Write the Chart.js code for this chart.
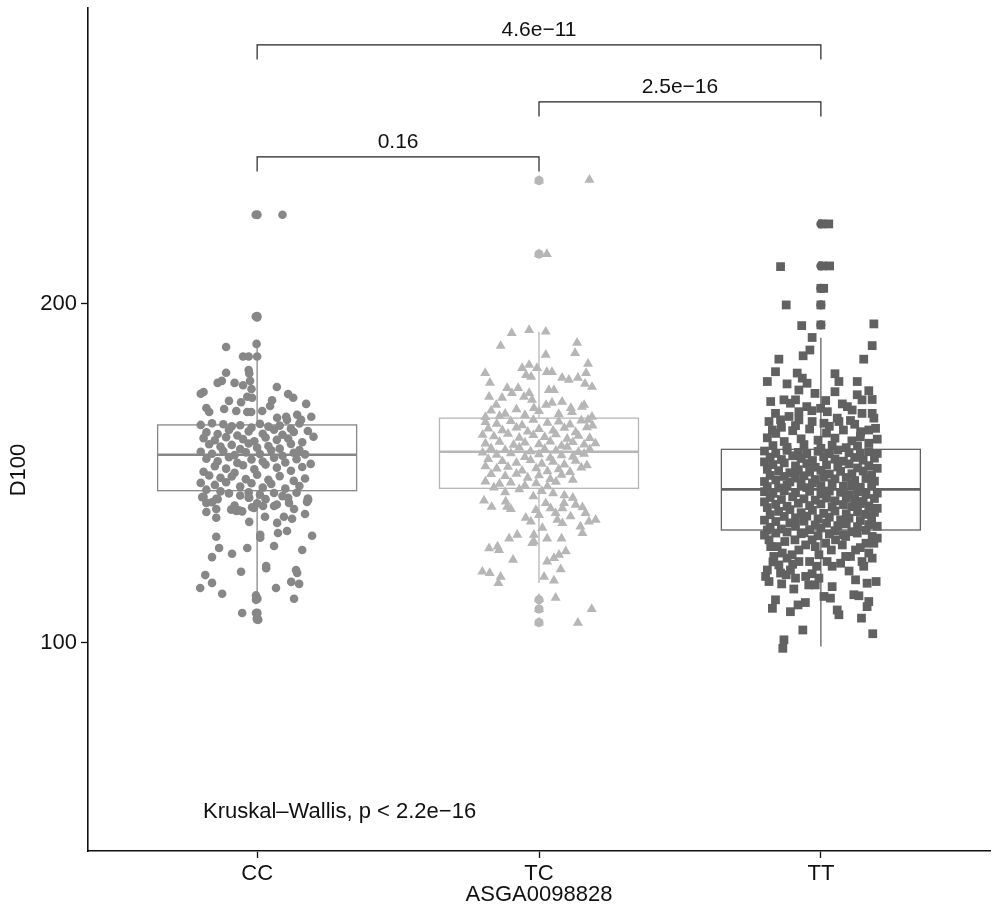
<!DOCTYPE html>
<html><head><meta charset="utf-8">
<script src="https://cdn.jsdelivr.net/npm/chart.js@4/dist/chart.umd.min.js"></script>
<style>html,body{margin:0;padding:0;background:#fff}#wrap{width:1000px;height:914px}</style>
</head><body><div id="wrap"><canvas id="c" width="1000" height="914"></canvas></div>
<script>
const categories = ['CC','TC','TT'];
const yTickValues = [100,200];
const xTitle = 'ASGA0098828';
const yTitle = 'D100';
const testLabel = 'Kruskal\u2013Wallis, p < 2.2e\u221216';

// box statistics per category
const q1 = [144.9,145.6,133.3];
const medians = [155.5,156.4,145.3];
const q3 = [164.3,166.3,157.1];
const whiskerLow = [114,117.7,98.9];
const whiskerHigh = [188.2,191.8,190];
const ccOutliers = [226.3,196.3,113,108.8,107];
const tcOutliers = [236.4,214.7,112.7,110,106];
const ttOutliers = [223.6,211.2,204.6,199.7,193.8];

// pairwise comparisons: [from, to, label]
const pairFrom = [1,2,1];
const pairTo = [3,3,2];
const pairLabels = ['4.6e\u221211','2.5e\u221216','0.16'];

// jittered observations: [jitter offset, D100]
const ccPoints = [
[-0.005,226.3],[0.09,226.3],[-0.005,196.3],[0.0,196],[-0.002,188.2],[-0.11,187.3],[-0.05,184.5],[-0.03,184.5],[0.0,184.5],[-0.03,180.5],[-0.028,179.5],[-0.11,179.7],[-0.125,177.3],[-0.14,176.7],[-0.08,176.7],[-0.05,176],[-0.025,177.3],[-0.02,174.9],[-0.19,174],[-0.2,173.5],[0.07,175.5],[0.11,173.4],[0.128,172.3],[-0.1,171.4],[-0.057,171],[-0.035,172.6],[-0.018,172.3],[0.053,171.6],[0.046,169.9],[0.174,170.5],[-0.18,169.3],[-0.17,168.1],[-0.117,169],[-0.074,168.4],[-0.035,168.1],[-0.021,168.1],[0.018,168.4],[0.071,166.4],[0.103,166.7],[0.106,165.8],[0.142,167.3],[0.156,165.8],[0.192,166.7],[-0.2,164.3],
[-0.16,164.8],[-0.12,164.5],[-0.09,163.9],[-0.06,164.2],[-0.02,163.5],[0.01,164.6],[0.04,163.8],[0.08,164.1],[0.12,163.2],[0.15,164.7],[0.18,162.5],[-0.18,162.1],[-0.14,161.6],[-0.1,162.8],[-0.07,161.2],[-0.03,162.4],[0.02,161.7],[0.06,162.9],[0.09,161.4],[0.13,162.2],[-0.19,160.4],[-0.15,159.8],[-0.11,160.7],[-0.05,160.1],[-0.01,159.5],[0.03,160.6],[0.07,159.9],[0.11,160.3],[0.16,159.2],[0.2,160.8],
[-0.17,158.6],[-0.13,157.9],[-0.09,158.4],[-0.06,157.2],[-0.03,158.8],[0.0,157.6],[0.04,158.1],[0.08,157.3],[0.12,158.7],[0.15,156.9],[-0.2,156.4],[-0.16,155.8],[-0.12,156.6],[-0.08,155.4],[-0.04,156.2],[0.01,155.7],[0.05,156.8],[0.09,155.2],[0.13,156.1],[0.17,155.6],
[-0.18,154.3],[-0.14,153.6],[-0.1,154.8],[-0.07,153.1],[-0.02,154.1],[0.02,153.5],[0.06,154.6],[0.1,153.2],[0.14,154.2],[0.19,152.8],[-0.15,152.1],[-0.11,151.4],[-0.05,152.4],[-0.01,151.2],[0.03,152.6],[0.07,151.7],[0.12,150.8],[0.16,151.9],[-0.19,150.5],[-0.08,150.2],
[-0.17,149.4],[-0.13,148.7],[-0.09,149.1],[-0.04,148.3],[0.0,149.6],[0.04,148.1],[0.08,149.2],[0.13,147.8],[0.17,148.5],[-0.2,147.2],[-0.15,146.6],[-0.11,147.4],[-0.06,146.1],[-0.02,147.1],[0.02,145.8],[0.05,146.9],[0.1,145.5],[0.15,146.3],[-0.18,145.2],[-0.13,144.7],
[-0.19,143.1],[-0.16,141.5],[-0.14,142.4],[-0.1,144.1],[-0.06,143.5],[-0.03,144.4],[0.01,143.7],[0.03,142.4],[0.06,144.2],[0.09,143.3],[0.11,142.8],[0.14,144.3],[0.18,142.6],[-0.03,142.8],[0.0,141.2],[0.07,140.8],[-0.08,140.5],
[-0.145,139.5],[-0.145,136.9],[-0.18,138.6],[-0.092,139.3],[-0.074,138.9],[-0.064,139.1],[-0.053,138.8],[-0.028,135.7],[-0.028,142.8],[0.028,137.2],[0.071,135.4],[-0.018,140],[-0.011,139.8],[0.021,140.4],[0.06,140.4],[0.113,141.3],[0.131,139.5],[0.17,138],[0.177,141.6],[0.181,142.2],[-0.195,143],[-0.18,141.3],[-0.145,142.5],
[-0.145,131.3],[-0.135,128],[-0.16,125.3],[-0.089,126.3],[-0.035,128],[0.011,131.9],[0.011,131],[0.06,128.6],[0.074,132.4],[0.095,137.2],[0.106,133],[0.124,136.6],[0.195,131.6],[0.16,127.4],[0.032,122.7],[0.032,122],[-0.057,121],[-0.184,120],[-0.16,117.7],[-0.202,116.2],[-0.124,114.5],[0.067,116.2],[0.138,121.5],[0.142,120.6],[0.121,118],[0.149,117.4],[0.131,113],[-0.004,114],[-0.004,112.7],[-0.053,108.8],[-0.004,108.8],[0.004,106.8],[0.0,107.5]
];
const tcPoints = [
[0.0,236.4],[0.179,236.6],[0.0,214.7],[0.028,214.7],[-0.097,191.4],[-0.035,192.3],[0.024,191.8],[-0.136,187.6],[0.135,188.5],[0.128,185.5],[0.024,185],[-0.191,179.6],[-0.174,176.7],[-0.06,181.1],[-0.035,182],[-0.046,179],[-0.028,178.5],[-0.007,181.1],[0.028,179.9],[0.046,179.9],[0.082,178.2],[0.106,177.6],[0.138,178.2],[0.174,182.3],[0.167,179.6],[0.163,176.4],[0.188,175.5],[-0.113,175.2],[-0.096,173.7],[-0.074,175.2],[-0.053,172.6],[-0.035,173.7],[0.035,174.6],[0.053,174.6],[-0.177,172.6],[-0.152,170.2],[-0.131,172.3],[-0.025,171.7],[-0.018,169.3],[0.025,170.2],[0.046,170.8],[0.082,171.1],[0.113,169.3],[0.117,168.1],[0.152,169.6],[0.16,170.2],[0.188,166.7],[0.174,165.8],
[-0.17,168.5],[-0.12,167.6],[-0.08,168.9],[-0.05,167.2],[0.0,168.4],[0.07,167.5],[-0.19,166.6],[-0.14,166.9],
[-0.19,165.1],[-0.15,164.6],[-0.1,165.4],[-0.06,164.2],[-0.02,165.8],[0.03,164.9],[0.07,165.3],[0.11,164.4],[0.15,165.6],[0.19,164.1],
[-0.18,163.2],[-0.13,162.7],[-0.08,163.5],[-0.04,162.3],[0.0,163.1],[0.05,162.6],[0.09,163.4],[0.13,162.1],[0.17,163.6],[-0.2,161.4],
[-0.16,160.9],[-0.11,161.7],[-0.07,160.5],[-0.02,161.3],[0.02,160.7],[0.06,161.5],[0.1,160.2],[0.14,161.1],[0.18,160.4],[-0.14,159.3],
[-0.19,158.8],[-0.09,158.4],[-0.05,159.1],[0.0,158.6],[0.04,159.4],[0.08,158.1],[0.12,159.2],[0.16,158.5],[0.2,158.9],[-0.17,157.4],
[-0.12,156.9],[-0.07,157.6],[-0.03,156.5],[0.02,157.2],[0.06,156.7],[0.1,157.8],[0.14,156.3],[0.18,157.1],[-0.2,156.1],[-0.15,155.5],
[-0.1,155.9],[-0.05,154.8],[0.0,155.6],[0.04,154.6],[0.08,155.3],[0.12,154.9],[0.16,155.8],[-0.18,154.2],[-0.13,153.6],[-0.08,153.1],
[-0.03,153.9],[0.01,152.8],[0.05,153.4],[0.09,152.6],[0.13,153.7],[0.17,152.4],[-0.19,152.1],[-0.15,151.4],[-0.11,151.9],[-0.06,150.8],
[-0.01,151.5],[0.03,150.6],[0.07,151.2],[0.11,150.4],[0.15,151.7],[-0.17,149.8],[-0.12,149.2],[-0.08,149.9],[-0.04,148.7],[0.0,149.4],
[0.04,148.3],[0.08,149.6],[0.12,148.1],[-0.19,147.6],[-0.14,146.9],[-0.1,147.3],[-0.05,146.4],[-0.01,147.1],[0.03,146.2],[0.06,147.5],
[-0.16,145.8],[-0.07,145.3],[0.01,144.8],[0.05,144.1],[-0.12,144.4],[0.09,143.5],[-0.02,143.2],[0.12,142.8],
[-0.195,142],[-0.168,140.1],[-0.118,141.7],[-0.113,140.1],[-0.1,139.5],[-0.047,136.9],[-0.029,135.8],[-0.011,139.2],[0.0,137.7],[0.024,141.2],[0.041,139.7],[0.059,138.3],[0.083,139.7],[0.089,141.2],[0.112,137.3],[0.13,140.7],[0.154,140],[0.165,138.3],[0.147,134.3],[0.177,135.8],[0.201,136.3],[0.154,132.4],[0.083,135.3],[0.065,136.3],[0.012,133.9],[-0.018,131.9],[-0.018,129.9],[-0.024,129.4],[0.029,130.8],[0.08,130.8],[-0.106,130.8],[-0.077,131.9],[-0.177,127.9],[-0.147,128.4],[-0.142,127.4],[-0.092,124.5],[0.029,124],[0.053,125],[0.071,126],[0.095,127],[0.077,121.7],[-0.201,121],[-0.175,120.6],[-0.136,119.5],[-0.144,117.6],[0.018,119.5],[0.053,118.4],[0.0,113],[0.059,113.3],[0.187,110],[0.138,105.9],[0.0,110],[0.0,106]
];
const ttPoints = [
[0.005,223.6],[0.028,223.6],[-0.143,211],[0.005,211.2],[0.031,211.2],[0.0,204.6],[0.01,204.6],[-0.123,199.7],[0.0,199.7],[-0.068,193.6],[0.0,193.8],[0.188,194.1],[-0.031,190.1],[-0.039,186.4],[-0.063,184.7],[0.182,187.7],[0.152,183.7],[-0.149,183.7],[-0.161,180],[-0.19,177.1],[-0.12,176.4],[-0.084,179.6],[-0.066,178.1],[-0.049,176.6],[-0.078,174.6],[0.05,179.4],[0.064,177.1],[0.05,174.1],[0.129,177.1],[-0.021,173.6],[0.17,174.4],[0.182,171.8],[0.017,171.5],[-0.178,171.2],[-0.131,171.7],[-0.108,170.7],[-0.09,171.7],[0.129,173.2],[0.146,171.7],[0.076,170.5],[0.094,169.7],[0.111,168.7],[-0.078,168.2],[-0.05,169.7],[-0.032,168.5],[-0.001,169.2],[0.023,168.2],[-0.161,167.7],[-0.184,165.3],[-0.172,162.8],[-0.143,165.8],[-0.113,166.8],[-0.078,165.8],[-0.031,165.3],[0.011,164.8],[0.058,166.3],[0.064,165.3],[0.105,165.6],[0.146,167.7],[0.182,167.7],[0.188,166.3],[0.194,163.3],[0.17,162.8],[0.141,162.3],
[-0.19,160.5],[-0.16,161.8],[-0.13,159.4],[-0.1,162.6],[-0.07,160.2],[-0.04,163.1],[-0.01,159.8],[0.02,161.9],[0.05,160.4],[0.08,162.8],[0.11,159.6],[0.14,160.8],[0.17,158.9],[0.2,160.1],[-0.17,158.2],[-0.12,157.7],[-0.06,158.5],[0.0,157.4],[0.04,158.3],[0.09,157.6],[0.13,158.1],[-0.14,163.6],[0.03,163.9],[-0.09,164.1],[0.12,164.5],
[-0.2,156.6],[-0.16,155.9],[-0.12,156.8],[-0.08,156.2],[-0.05,155.7],[-0.01,156.5],[0.03,155.8],[0.06,156.9],[0.1,156.1],[0.14,155.6],[0.17,156.4],[0.2,155.9],
[-0.18,154.8],[-0.14,154.1],[-0.1,155.2],[-0.07,154.4],[-0.03,153.8],[0.01,154.9],[0.05,154.2],[0.08,153.6],[0.12,154.7],[0.15,153.9],[0.19,154.5],[-0.2,153.4],
[-0.17,152.6],[-0.13,153.1],[-0.09,152.2],[-0.05,152.9],[-0.02,151.8],[0.02,152.5],[0.06,151.9],[0.1,152.8],[0.13,151.6],[0.17,152.3],[0.2,151.5],[-0.19,151.2],
[-0.15,150.8],[-0.11,150.2],[-0.08,151.1],[-0.04,150.4],[0.0,150.9],[0.03,149.8],[0.07,150.6],[0.11,149.9],[0.15,150.7],[0.18,149.6],[-0.18,149.4],[-0.13,149.1],
[-0.09,148.6],[-0.06,149.3],[-0.02,148.2],[0.01,148.9],[0.05,148.4],[0.09,148.8],[0.12,147.9],[0.16,148.5],[0.19,147.7],[-0.2,147.6],[-0.16,148.1],[-0.11,147.5],
[-0.07,146.9],[-0.03,147.2],[0.0,146.4],[0.04,147],[0.08,146.2],[0.11,146.8],[0.14,145.9],[0.18,146.6],[-0.19,146.1],[-0.15,145.7],[-0.12,146.5],[-0.05,145.8],
[-0.2,144.6],[-0.17,144.1],[-0.13,144.9],[-0.09,144.3],[-0.04,144.7],[0.0,143.9],[0.03,144.8],[0.07,144.4],[0.1,143.6],[0.13,144.6],[0.16,143.8],[0.2,144.2],
[-0.18,142.9],[-0.14,142.3],[-0.1,143.1],[-0.06,142.5],[-0.02,142.1],[0.02,142.7],[0.05,141.9],[0.09,142.8],[0.12,142.2],[0.15,141.7],[0.19,142.6],[-0.2,141.6],
[-0.16,140.9],[-0.12,140.3],[-0.08,141.2],[-0.04,140.5],[0.0,141],[0.04,140.1],[0.08,140.8],[0.11,140.2],[0.14,141.1],[0.17,140.4],[-0.19,139.9],[0.2,139.7],
[-0.15,138.8],[-0.11,139.3],[-0.07,138.4],[-0.03,139.1],[0.01,138.2],[0.05,138.9],[0.09,138.1],[0.13,138.7],[0.16,137.9],[0.19,138.5],[-0.18,137.8],[-0.13,137.3],
[-0.09,136.9],[-0.05,137.4],[-0.01,136.6],[0.03,137.1],[0.07,136.3],[0.1,136.8],[0.14,136.1],[0.18,136.7],[-0.2,136.2],[-0.16,135.8],[-0.11,135.4],[-0.06,135.9],
[-0.02,134.8],[0.02,135.3],[0.06,134.6],[0.09,135.1],[0.13,134.3],[0.17,134.9],[0.2,134.4],[-0.18,134.1],[-0.14,133.6],[-0.09,134.5],[-0.04,133.4],[0.0,133.9],
[0.05,133.1],[0.11,132.8],[0.16,133.2],[-0.12,132.7],[-0.07,132.2],[-0.16,132.4],[0.08,131.9],[-0.01,131.6],
[-0.184,130.4],[-0.155,128.4],[-0.137,126.5],[-0.12,125],[-0.102,126],[-0.078,127.4],[-0.054,128.9],[-0.031,130.4],[-0.007,126],[0.022,124],[0.04,122.6],[0.07,123.5],[0.105,125.5],[0.123,127.4],[0.146,124],[0.152,122.6],[0.182,125],[0.188,129.4],[0.182,131.4],[0.129,132.4],[0.088,131.4],[0.052,130.4],[0.017,129.4],[-0.078,124],[-0.108,121.5],[-0.149,123],[-0.167,125.5],[-0.19,133.3],[-0.178,128.4],[-0.128,129.9],[-0.092,130.4],[-0.02,128.4],[0.037,127.4],[0.076,128.9],[0.16,129.4],[0.17,126.5],[-0.04,124],[0.088,125.5],[-0.015,122.6],[-0.2,131.8],[0.2,130.9],[-0.06,132.5],[0.03,132.1],[0.14,128.1],[-0.1,123.2],[0.1,121.2],[-0.17,123.9],
[-0.196,119.6],[-0.184,118.1],[-0.19,121.5],[-0.143,120.6],[-0.123,120.1],[-0.139,117.4],[-0.09,119.1],[-0.096,115.9],[-0.054,119.6],[-0.031,120.4],[-0.043,117.1],[-0.02,117.1],[-0.007,119.1],[0.04,116.6],[0.011,113.7],[0.034,113.2],[0.123,118.6],[0.164,117.6],[0.196,118.1],[0.117,114.2],[0.135,113.9],[0.17,112.2],[0.164,110.7],[-0.161,112.7],[-0.172,110.2],[-0.108,109.2],[-0.081,111.2],[-0.055,111.9],[0.058,109.7],[0.064,108.3],[0.144,107.3],[-0.064,103.8],[0.184,102.7],[-0.131,100.9],[-0.135,98.4]
];

const groupColors = ['#878787','#b6b6b6','#616161'];
const FONT = '"Liberation Sans", Arial, Helvetica, sans-serif';

function toXY(points, cat){ return points.map(p => ({x: cat + p[0], y: p[1]})); }
function outlierXY(vals, cat){ return vals.map(v => ({x: cat, y: v})); }

const boxPlugin = {
  id: 'boxes',
  beforeDatasetsDraw(chart){
    const {ctx, scales:{x, y}} = chart;
    ctx.save();
    const line = (x1,y1,x2,y2)=>{ctx.beginPath();ctx.moveTo(x1,y1);ctx.lineTo(x2,y2);ctx.stroke();};
    categories.forEach((c,i)=>{
      const cat = i+1;
      const l = x.getPixelForValue(cat-0.353), r = x.getPixelForValue(cat+0.353), m = x.getPixelForValue(cat);
      const yq1 = y.getPixelForValue(q1[i]), yq3 = y.getPixelForValue(q3[i]), ym = y.getPixelForValue(medians[i]);
      ctx.strokeStyle = groupColors[i];
      ctx.lineWidth = 1.3;
      line(m, y.getPixelForValue(whiskerHigh[i]), m, yq3);
      line(m, yq1, m, y.getPixelForValue(whiskerLow[i]));
      ctx.fillStyle = '#fff';
      ctx.fillRect(l, yq3, r-l, yq1-yq3);
      ctx.strokeRect(l, yq3, r-l, yq1-yq3);
      ctx.lineWidth = 2.6;
      line(l, ym, r, ym);
    });
    ctx.restore();
  }
};

const annotPlugin = {
  id: 'annot',
  afterDraw(chart){
    const {ctx, scales:{x, y}} = chart;
    ctx.save();
    const levels = [276.4, 259.6, 243.4];
    const tipLen = 4.3;
    const textGap = 4.3;
    ctx.strokeStyle = '#222';
    ctx.lineWidth = 1.2;
    ctx.fillStyle = '#111';
    ctx.font = '21px ' + FONT;
    ctx.textAlign = 'center';
    ctx.textBaseline = 'middle';
    pairLabels.forEach((lab,i)=>{
      const x1 = x.getPixelForValue(pairFrom[i]), x2 = x.getPixelForValue(pairTo[i]);
      const yl = y.getPixelForValue(levels[i]), yt = y.getPixelForValue(levels[i]-tipLen);
      ctx.beginPath();
      ctx.moveTo(x1, yt); ctx.lineTo(x1, yl); ctx.lineTo(x2, yl); ctx.lineTo(x2, yt);
      ctx.stroke();
      ctx.fillText(lab, (x1+x2)/2, y.getPixelForValue(levels[i]+textGap));
    });
    // Kruskal-Wallis label
    ctx.font = '22px ' + FONT;
    ctx.textAlign = 'left';
    ctx.fillText(testLabel, x.getPixelForValue(0.808), y.getPixelForValue(50.1));
    // axis titles
    ctx.font = '22px ' + FONT;
    ctx.textAlign = 'center';
    ctx.fillText(xTitle, x.getPixelForValue(2), 895);
    ctx.translate(19, 470);
    ctx.rotate(-Math.PI/2);
    ctx.fillText(yTitle, 0, 0);
    ctx.restore();
  }
};

const ctx = document.getElementById('c').getContext('2d');
new Chart(ctx, {
  type: 'scatter',
  data: {
    datasets: [
      {label:'CC', data: toXY(ccPoints,1), pointStyle:'circle', pointRadius:4.3, backgroundColor: groupColors[0], borderWidth:0, order:1},
      {label:'TC', data: toXY(tcPoints,2), pointStyle:'triangle', pointRadius:5.8, backgroundColor: groupColors[1], borderWidth:0, order:1},
      {label:'TT', data: toXY(ttPoints,3), pointStyle:'rect', pointRadius:6.2, backgroundColor: groupColors[2], borderWidth:0, order:1},
      {label:'CC out', data: outlierXY(ccOutliers,1), pointStyle:'circle', pointRadius:4.6, backgroundColor: groupColors[0], borderWidth:0, order:2},
      {label:'TC out', data: outlierXY(tcOutliers,2), pointStyle:'circle', pointRadius:4.6, backgroundColor: groupColors[1], borderWidth:0, order:2},
      {label:'TT out', data: outlierXY(ttOutliers,3), pointStyle:'circle', pointRadius:4.6, backgroundColor: groupColors[2], borderWidth:0, order:2}
    ]
  },
  options: {
    responsive: false,
    animation: false,
    devicePixelRatio: 1,
    layout: {padding: {left:0, top:8, right:10, bottom:0}},
    plugins: {legend:{display:false}, tooltip:{enabled:false}},
    scales: {
      x: {
        type:'linear', min:0.4, max:3.6,
        afterBuildTicks: s => { s.ticks = categories.map((c,i)=>({value:i+1})); },
        afterFit: s => { s.height = 63; s.paddingLeft = 0; s.paddingRight = 0; },
        ticks: {callback: v => categories[v-1], color:'#111', font:{family:FONT, size:22}, padding:3, maxRotation:0, autoSkip:false},
        grid: {drawOnChartArea:false, drawTicks:true, tickLength:7, color:'#111', tickWidth:1.3},
        border: {display:true, color:'#111', width:1.6}
      },
      y: {
        type:'linear', min:38.6, max:287.3,
        afterBuildTicks: s => { s.ticks = yTickValues.map(v=>({value:v})); },
        afterFit: s => { s.width = 88; s.paddingTop = 0; s.paddingBottom = 0; },
        ticks: {color:'#111', font:{family:FONT, size:22}, padding:4},
        grid: {drawOnChartArea:false, drawTicks:true, tickLength:7, color:'#111', tickWidth:1.3},
        border: {display:true, color:'#111', width:1.6}
      }
    }
  },
  plugins: [boxPlugin, annotPlugin]
});
</script></body></html>
